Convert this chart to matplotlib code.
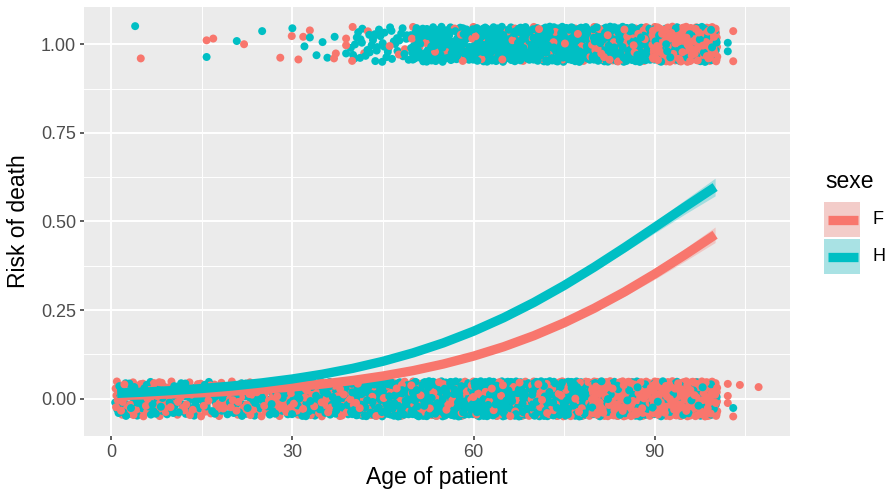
import matplotlib
matplotlib.use("Agg")
import matplotlib.pyplot as plt
from matplotlib.patches import Rectangle
from matplotlib.lines import Line2D

plt.rcParams['font.family'] = ['Liberation Sans', 'DejaVu Sans']

col_f = "#F8766D"
col_h = "#00BFC4"

# --- nombre de patients par tranche d'age ---
bin_start = [1, 10, 20, 30, 40, 50, 60, 70, 80, 90]
bin_end = [9, 19, 29, 39, 49, 59, 69, 79, 89, 100]
# deces = 0
vivants_f = [60, 50, 60, 65, 70, 80, 100, 140, 300, 340]
vivants_h = [55, 45, 50, 90, 200, 260, 300, 300, 110, 80]
# deces = 1
morts_f = [0, 0, 0, 0, 6, 12, 20, 30, 70, 240]
morts_h = [0, 0, 0, 0, 45, 120, 170, 210, 200, 90]

# --- points isoles (age, risque jitter, sexe) ---
isoles_age = [3.97, 4.9, 15.8, 16.9, 15.8, 20.8, 22.0, 25.0, 28.0, 31.0, 30.0, 29.9, 32.9,
              31.8, 32.9, 32.0, 35.0, 34.0, 35.8, 37.0, 38.9, 38.9, 38.9, 37.2, 39.9, 36.9,
              103.0, 102.1, 102.1, 103.0,
              102.1, 104.1, 107.2, 102.1, 102.1, 103.0, 103.0]
isoles_risque = [1.051, 0.96, 1.011, 1.016, 0.964, 1.009, 1.0, 1.037, 0.962, 0.957, 1.045, 1.023, 1.039,
                 1.021, 1.019, 0.994, 1.006, 0.969, 0.962, 1.021, 1.016, 0.997, 0.974, 0.974, 0.953, 0.96,
                 1.037, 1.004, 0.98, 0.952,
                 0.042, 0.039, 0.033, 0.008, -0.012, -0.026, -0.05]
isoles_sexe = ["H", "F", "F", "F", "H", "H", "F", "H", "F", "F", "H", "F", "F",
               "F", "H", "H", "H", "H", "H", "H", "F", "F", "H", "F", "F", "F",
               "F", "H", "H", "F",
               "F", "F", "F", "F", "F", "H", "F"]

# --- courbes logistiques ---
ages_courbe = [1, 5, 10, 15, 20, 25, 30, 35, 40, 45, 50, 55, 60, 65, 70, 75, 80, 85, 90, 95, 100]
risque_f = [0.0090, 0.0108, 0.0135, 0.0169, 0.0212, 0.0266, 0.0332, 0.0415, 0.0517, 0.0642, 0.0794,
            0.0980, 0.1203, 0.1468, 0.1780, 0.2142, 0.2554, 0.3015, 0.3521, 0.4061, 0.4626]
risque_h = [0.0152, 0.0184, 0.0231, 0.0289, 0.0360, 0.0450, 0.0559, 0.0694, 0.0858, 0.1057, 0.1295,
            0.1576, 0.1906, 0.2287, 0.2717, 0.3195, 0.3715, 0.4265, 0.4835, 0.5409, 0.5972]
se_f = [0.004, 0.004, 0.004, 0.004, 0.004, 0.004, 0.004, 0.004, 0.004, 0.004, 0.0045,
        0.005, 0.0055, 0.006, 0.007, 0.008, 0.010, 0.012, 0.015, 0.018, 0.022]
se_h = [0.004, 0.004, 0.004, 0.004, 0.004, 0.004, 0.004, 0.004, 0.004, 0.0045, 0.005,
        0.0055, 0.006, 0.007, 0.008, 0.009, 0.011, 0.013, 0.016, 0.020, 0.025]


def halton(k, base):
    r, f = 0.0, 1.0 / base
    while k > 0:
        r += f * (k % base)
        k //= base
        f /= base
    return r


def points_bande(comptes_f, comptes_h, deces, decalage):
    # jitter deterministe (largeur 0.4, hauteur 0.05) comme geom_jitter
    xs, ys, cs = [], [], []
    for debut, fin, nf, nh in zip(bin_start, bin_end, comptes_f, comptes_h):
        n = nf + nh
        for k in range(decalage, decalage + n):
            u = halton(k, 2)
            v = halton(k, 3)
            w = halton(k, 5)
            xs.append(debut - 0.4 + u * (fin - debut + 0.8))
            ys.append(deces - 0.05 + v * 0.1)
            cs.append(col_f if w < nf / n else col_h)
    return xs, ys, cs


fig = plt.figure(figsize=(8.87, 4.92), dpi=100)
ax = fig.add_axes([84 / 887, 56 / 492, 706 / 887, 429 / 492])
ax.set_facecolor("#EBEBEB")

x0, y0, c0 = points_bande(vivants_f, vivants_h, 0, 11)
x1, y1, c1 = points_bande(morts_f, morts_h, 1, 37)
xs = x0 + x1 + isoles_age
ys = y0 + y1 + isoles_risque
cs = c0 + c1 + [col_f if s == "F" else col_h for s in isoles_sexe]
ax.scatter(xs, ys, s=33, c=cs, edgecolors="none", zorder=2)

for risque, se, col in [(risque_f, se_f, col_f), (risque_h, se_h, col_h)]:
    bas = [r - s for r, s in zip(risque, se)]
    haut = [r + s for r, s in zip(risque, se)]
    ax.fill_between(ages_courbe, bas, haut, color=col, alpha=0.3, linewidth=0, zorder=3)
    ax.plot(ages_courbe, risque, color=col, lw=6.7, solid_capstyle="butt", zorder=3)

ax.set_xlim(-4.5, 112.4)
ax.set_ylim(-0.105, 1.105)
ax.set_xticks([0, 30, 60, 90])
ax.set_xticklabels(["0", "30", "60", "90"])
ax.set_xticks([15, 45, 75, 105], minor=True)
ax.set_yticks([0, 0.25, 0.5, 0.75, 1.0])
ax.set_yticklabels(["0.00", "0.25", "0.50", "0.75", "1.00"])
ax.set_yticks([0.125, 0.375, 0.625, 0.875], minor=True)
ax.grid(which="major", color="white", lw=1.4, zorder=1)
ax.grid(which="minor", color="white", lw=0.7, zorder=1)
ax.set_axisbelow(True)
for sp in ax.spines.values():
    sp.set_visible(False)
ax.tick_params(which="major", length=3.2, width=1.1, color="#333333", labelsize=13,
               labelcolor="#4D4D4D", pad=2.5)
ax.tick_params(which="minor", length=0)
ax.set_xlabel("Age of patient", fontsize=16.5, labelpad=4)
ax.set_ylabel("Risk of death", fontsize=16.5, labelpad=8)


# --- legende ---
def fx(x):
    return x / 887


def fy(y):
    return 1 - y / 492


fig.text(fx(825), fy(182), "sexe", fontsize=16.5, ha="left", va="center")
for i, (lab, col) in enumerate([("F", col_f), ("H", col_h)]):
    top = 202 + i * 37
    fig.patches.append(Rectangle((fx(824), fy(top + 35)), 36 / 887, 35 / 492,
                                 transform=fig.transFigure, facecolor="#F2F2F2", edgecolor="none"))
    fig.patches.append(Rectangle((fx(824), fy(top + 35)), 36 / 887, 35 / 492,
                                 transform=fig.transFigure, facecolor=col, alpha=0.3, edgecolor="none"))
    cy = fy(top + 17.5)
    fig.lines.append(Line2D([fx(828), fx(858)], [cy, cy], transform=fig.transFigure,
                            color=col, lw=6.7, solid_capstyle="butt"))
    fig.lines.append(Line2D([fx(843)], [cy], transform=fig.transFigure, marker="o",
                            markersize=5.5, color=col, markeredgewidth=0))
    fig.text(fx(873), cy, lab, fontsize=13, ha="left", va="center")

fig.savefig("out.png", dpi=100)
